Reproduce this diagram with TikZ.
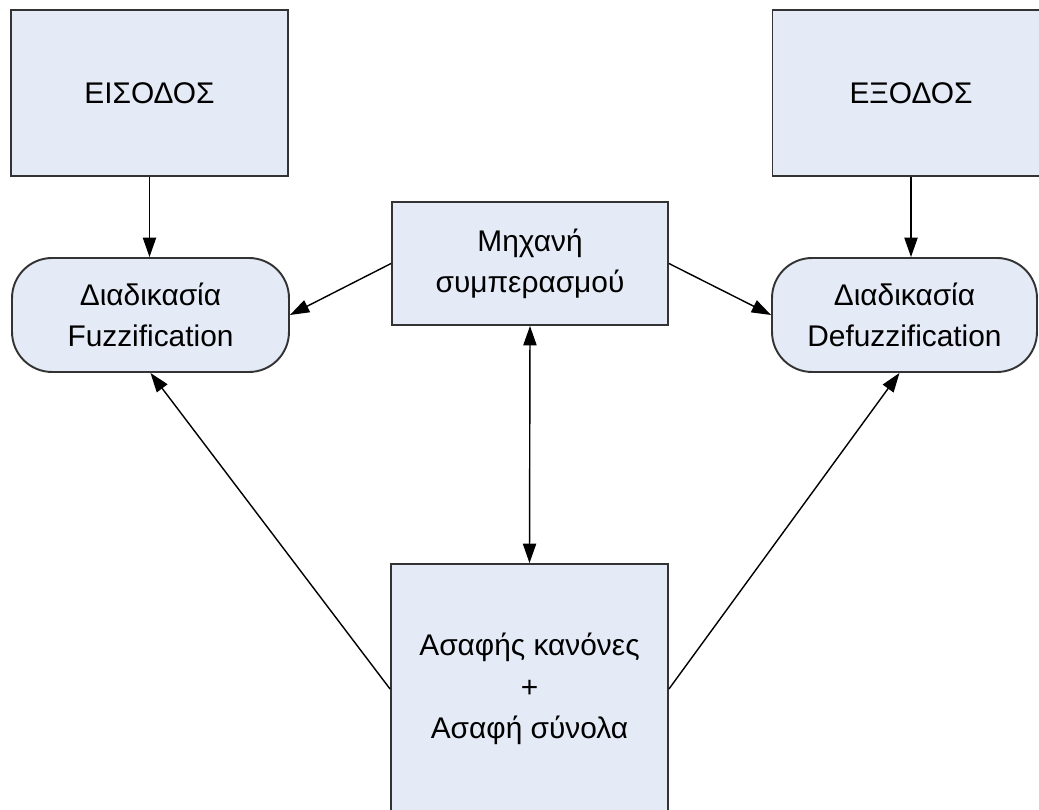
\documentclass[tikz,border=0pt]{standalone}
\usepackage{fontspec}
\setmainfont{Liberation Sans}
\usetikzlibrary{arrows.meta}
\definecolor{boxfill}{HTML}{E4EAF6}
\definecolor{boxline}{HTML}{333333}

\begin{document}
\begin{tikzpicture}[x=0.02cm, y=-0.02cm,
                    square_node/.style={rectangle, draw=boxline, fill=boxfill, line width=1.1pt, align=center, inner sep=0pt, font=\fontsize{17}{23.5}\selectfont},
                    round_node/.style={square_node, rounded corners=0.8cm, minimum height=2.28cm},
                    link/.style={draw=black, line width=0.8pt, -{Triangle[length=11pt,width=7.5pt]}}
                ]
                    \useasboundingbox (0,0) rectangle (1039,810);
                    \clip (0,0) rectangle (1039,810);
                    \node[square_node, minimum width=5.54cm, minimum height=3.32cm] (input) at (149.5,93) {ΕΙΣΟΔΟΣ};
                    \node[square_node, minimum width=5.54cm, minimum height=3.32cm] (output) at (911,93) {ΕΞΟΔΟΣ};
                    \node[round_node, minimum width=5.54cm] (fuzz) at (150.5,315) {Διαδικασία\\Fuzzification};
                    \node[round_node, minimum width=5.3cm] (defuzz) at (904.5,315) {Διαδικασία\\Defuzzification};
                    \node[square_node, minimum width=5.52cm, minimum height=2.46cm] (engine) at (530,263.5) {Μηχανή\\συμπερασμού};
                    \node[square_node, minimum width=5.54cm, minimum height=5cm] (rules) at (529.5,689) {Ασαφής κανόνες\\+\\Ασαφή σύνολα};

                    \draw[link] (input.south) -- (input.south |- fuzz.north);
                    \draw[link] (output.south) -- (output.south |- defuzz.north);
                    \draw[link] (engine.west) -- (fuzz.east);
                    \draw[link] (engine.east) -- (defuzz.west);
                    \draw[link, {Triangle[length=11pt,width=7.5pt]}-{Triangle[length=11pt,width=7.5pt]}] (engine.south) -- (rules.north);
                    \draw[link] (rules.west) -- (fuzz.south);
                    \draw[link] (rules.east) -- ([xshift=-0.1cm]defuzz.south);
                \end{tikzpicture}
\end{document}
